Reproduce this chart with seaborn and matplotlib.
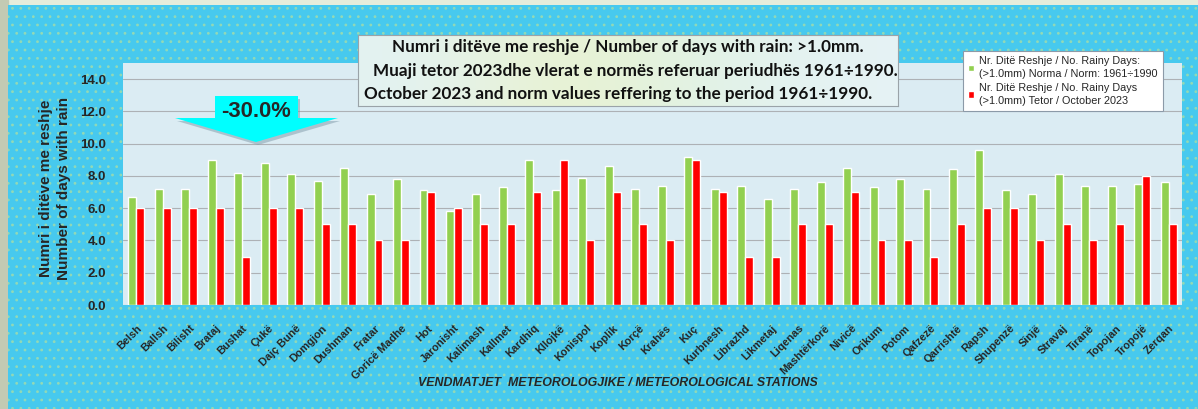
import numpy as np
import pandas as pd
import seaborn as sns
import matplotlib.pyplot as plt
from matplotlib.patches import Rectangle, Polygon

# Data
stations = ['Belsh', 'Ballsh', 'Bilisht', 'Brataj', 'Bushat', 'Çukë', 'Dajç Bunë', 'Domgjon',
            'Dushman', 'Fratar', 'Goricë Madhe', 'Hot', 'Jaronisht', 'Kalimash', 'Kallmet',
            'Kardhiq', 'Kllojkë', 'Konispol', 'Koplik', 'Korçë', 'Krahës', 'Kuç', 'Kurbnesh',
            'Librazhd', 'Likmetaj', 'Liqenas', 'Mashtërkorë', 'Nivicë', 'Orikum', 'Potom',
            'Qafzezë', 'Qarrishtë', 'Rapsh', 'Shupenzë', 'Sinjë', 'Stravaj', 'Tiranë',
            'Topojan', 'Tropojë', 'Zerqan']
norm_days = [6.7, 7.2, 7.2, 9.0, 8.2, 8.8, 8.1, 7.7, 8.5, 6.9, 7.8, 7.1, 5.8, 6.9, 7.3,
             9.0, 7.1, 7.9, 8.6, 7.2, 7.4, 9.2, 7.2, 7.4, 6.6, 7.2, 7.6, 8.5, 7.3, 7.8,
             7.2, 8.4, 9.6, 7.1, 6.9, 8.1, 7.4, 7.4, 7.5, 7.6]
oct_days = [6, 6, 6, 6, 3, 6, 6, 5, 5, 4, 4, 7, 6, 5, 5,
            7, 9, 4, 7, 5, 4, 9, 7, 3, 3, 5, 5, 7, 4, 4,
            3, 5, 6, 6, 4, 5, 4, 5, 8, 5]
series_names = ['Nr. Ditë Reshje / No. Rainy Days:\n(>1.0mm) Norma / Norm: 1961÷1990',
                'Nr. Ditë Reshje / No. Rainy Days\n(>1.0mm) Tetor / October 2023']
change_label = '-30.0%'
title_lines = ['Numri i ditëve me reshje / Number of days with rain: >1.0mm.',
               'Muaji tetor 2023dhe vlerat e normës referuar periudhës 1961÷1990.',
               'October 2023 and norm values reffering to the period 1961÷1990.']
y_label = 'Numri i ditëve me reshje\nNumber of days with rain'
x_label = 'VENDMATJET  METEOROLOGJIKE / METEOROLOGICAL STATIONS'

df = pd.DataFrame({
    'station': stations * 2,
    'days': norm_days + oct_days,
    'series': [series_names[0]] * len(stations) + [series_names[1]] * len(stations),
})

W, H = 1198, 409


def fx(x):
    return x / W


def fy(y):
    return 1 - y / H


sns.set_theme(style='white')
plt.rcParams['font.family'] = ['Liberation Sans', 'DejaVu Sans']
plt.rcParams['hatch.linewidth'] = 0.8

fig = plt.figure(figsize=(W / 100, H / 100), dpi=100, facecolor='#e6eddb')

# outer frame: grey strip on the left and the cyan dotted panel
fig.patches.append(Rectangle((0, 0), fx(8), 1, transform=fig.transFigure,
                             color='#c3cab3', zorder=-10))
fig.patches.append(Rectangle((fx(8), 0), 1 - fx(8), fy(5), transform=fig.transFigure,
                             facecolor='#47c9ee', edgecolor='#92d9b6', hatch='..',
                             lw=0, zorder=-10))

# plot area
ax = fig.add_axes([fx(123), fy(305), fx(1182) - fx(123), (305 - 63) / H])
ax.set_facecolor('#dbecf3')
sns.barplot(data=df, x='station', y='days', hue='series',
            palette=['#92d050', '#ff0000'], width=0.6, saturation=1,
            ax=ax, zorder=3)

ax.set_ylim(0, 15)
ax.set_yticks(np.arange(0, 15, 2))
ax.set_yticklabels([f'{v:.1f}' for v in np.arange(0, 15, 2)],
                   fontsize=9.5, fontweight='bold')
ax.set_xticks(range(len(stations)))
ax.set_xticklabels(stations, rotation=45, ha='right', rotation_mode='anchor',
                   fontsize=7.8, fontweight='bold')
ax.tick_params(axis='x', length=0, pad=13)
ax.tick_params(axis='y', length=0, pad=12)
ax.yaxis.grid(True, color='#adb1b5', lw=0.8)
ax.set_axisbelow(True)
for s in ax.spines.values():
    s.set_visible(False)
ax.set_xlabel('')
ax.set_ylabel('')

# legend box
handles, labels = ax.get_legend_handles_labels()
leg = ax.legend(handles, labels, loc='upper left',
                bbox_to_anchor=(fx(958), fy(46)), bbox_transform=fig.transFigure,
                frameon=True, fancybox=False, edgecolor='#8c9aa8', framealpha=1,
                fontsize=7.8, handlelength=0.55, handleheight=0.55,
                handletextpad=0.45, labelspacing=0.3, borderpad=0.45)
leg.get_frame().set_linewidth(0.8)
for t in leg.get_texts():
    t.set_linespacing(1.4)

# title box with soft gradient
tax = fig.add_axes([fx(358), fy(106), fx(898) - fx(358), (106 - 35) / H])
grad = np.array([[0.89, 0.95, 0.95], [0.92, 0.95, 0.80], [0.88, 0.95, 0.90],
                 [0.90, 0.95, 0.96]])[None, :, :]
tax.imshow(grad, aspect='auto', interpolation='bicubic', extent=(0, 1, 0, 1))
tax.set_xticks([])
tax.set_yticks([])
for s in tax.spines.values():
    s.set_color('#9aa3a8')
    s.set_linewidth(0.8)

title_pos = [(628, 47), (635, 71), (618, 94)]
for line, (x, y) in zip(title_lines, title_pos):
    fig.text(fx(x), fy(y), line, ha='center', va='center', fontsize=12.3,
             fontweight='bold', family=['Lato', 'DejaVu Sans'], color='#111111')

# change arrow
arrow = [(215, 96), (298, 96), (298, 118), (338, 118), (256, 142), (175, 118), (215, 118)]
fig.patches.append(Polygon([(fx(x + 2), fy(y + 3)) for x, y in arrow],
                           transform=fig.transFigure, color='#7f9aa8', alpha=0.5,
                           lw=0, zorder=5))
fig.patches.append(Polygon([(fx(x), fy(y)) for x, y in arrow],
                           transform=fig.transFigure, color='#00ffff', lw=0, zorder=6))
fig.text(fx(256), fy(112), change_label, ha='center', va='center', fontsize=15.8,
         fontweight='bold', zorder=7)

# axis titles
fig.text(fx(55), fy(188), y_label, rotation=90, ha='center', va='center',
         fontsize=11, fontweight='bold', linespacing=1.4)
fig.text(fx(618), fy(383), x_label, ha='center', va='center', fontsize=8.9,
         fontweight='bold', style='italic')

fig.savefig('out.png', dpi=100, facecolor=fig.get_facecolor())
